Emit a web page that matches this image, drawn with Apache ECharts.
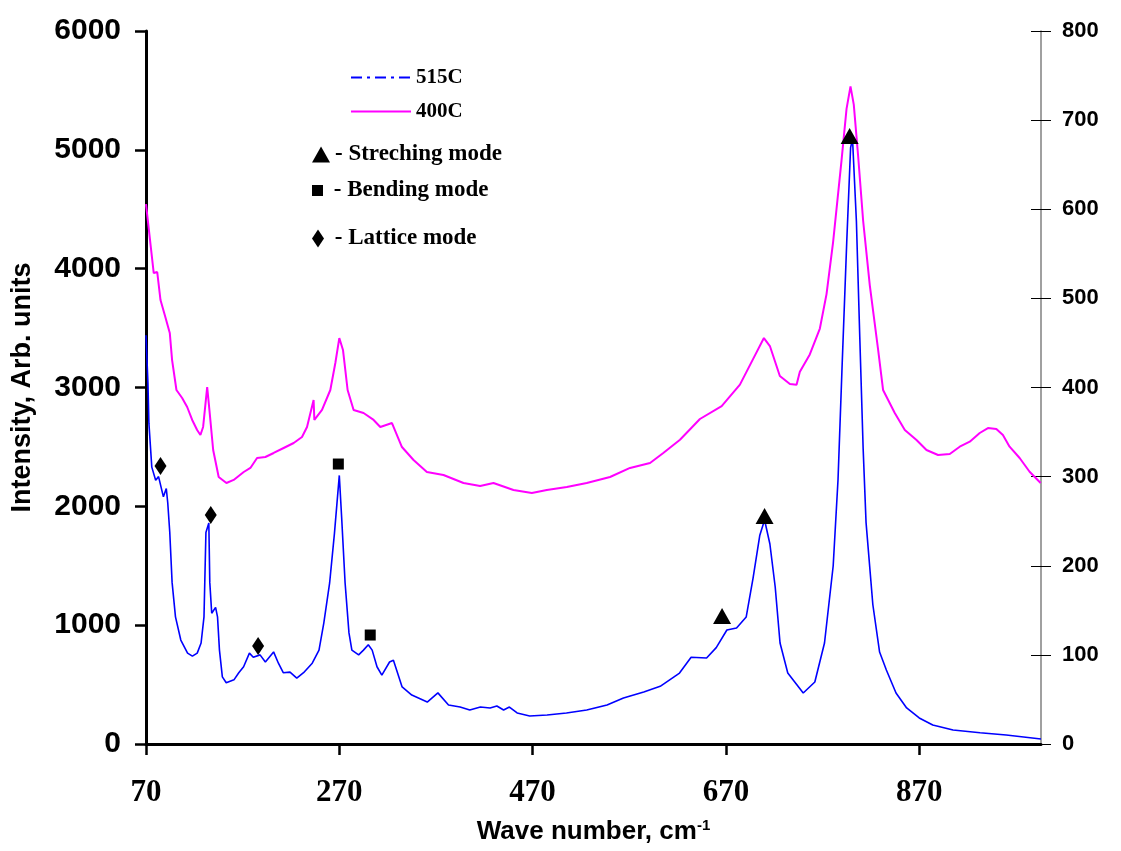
<!DOCTYPE html>
<html>
<head>
<meta charset="utf-8">
<script src="https://cdn.jsdelivr.net/npm/echarts@6/dist/echarts.min.js"></script>
<style>html,body{margin:0;padding:0;background:#fff}#c{width:1121px;height:851px}</style>
</head>
<body>
<div id="c"></div>
<script>
// ---- data ----
const xTicks = [70, 270, 470, 670, 870];

const wn515 = [70,72,73,76,80,83,88,91,92.5,94.6,97,100.5,106,113,118,123,127,130,132,135,136,138,142,144,146,149,153,161,166,171,177,181,188,193.5,202,207,212,219,226,233,242,249,254,260,265,270,272.4,276,280,283,290,295,300,304,309,314,322,326,335,345,361,372,383,395,405,416,426,433,440,446,454,467,485,505,526,547,564,585,602,622,634,650,660,671,681,691,698,705,710,715.5,721,726,734,750,762,772,781,786,790,795,799,801,805,808.5,812,815,822,829,836,846,857,870,884,905,933,960,996];
const int515 = [3440,3040,2700,2330,2220,2250,2080,2150,2030,1780,1360,1070,875,765,740,765,850,1070,1780,1860,1360,1100,1150,1070,790,565,515,540,600,650,765,730,750,690,775,680,600,605,555,600,680,790,1020,1355,1775,2260,1910,1355,935,790,750,790,835,790,650,580,690,705,480,412,353,430,328,311,286,311,303,320,286,311,261,236,244,261,286,328,387,438,485,597,730,724,811,959,976,1069,1392,1754,1885,1683,1321,850,597,429,522,850,1500,2226,3132,4221,5018,5091,4401,3425,2482,1863,1174,774,623,429,303,219,160,118,95,76,42];

const wn400 = [70,78,81.6,85,90,94.6,97,101.5,107.4,112.6,117.8,122.9,126.3,129.1,133.3,135.6,139.5,145.2,153.2,160.7,171.1,178,184.9,193.5,202.1,212.4,222.8,231.4,236.6,243.4,244.2,252.1,260.7,265.9,270,273.8,278.6,284.8,295.1,305.5,312.4,324.5,334.8,346.8,360.6,377.8,398.5,415.7,429.5,450.2,469.2,484.7,505.4,526,550.1,570.8,591.5,605.2,622.5,643.1,665.6,684.5,698.2,709.3,715.5,725.8,736.2,743.1,746.5,756.8,767.2,774.1,780.9,789.6,794.8,798.9,802.3,806.8,812,818.9,827.5,832.6,844.7,855.1,867.2,877.5,889.5,901.6,911.9,922.3,932.6,941.1,949.8,956.6,963.5,973.9,984.2,995.6];
const int400 = [4544,3963,3972,3736,3593,3459,3231,2979,2912,2836,2727,2642,2600,2668,3004,2811,2474,2247,2196,2222,2289,2323,2407,2415,2449,2491,2533,2583,2668,2895,2727,2811,2979,3206,3416,3316,2979,2811,2785,2727,2668,2701,2499,2390,2289,2264,2196,2171,2196,2137,2112,2137,2163,2196,2247,2323,2365,2449,2560,2735,2844,3024,3241,3416,3349,3097,3029,3024,3132,3278,3496,3786,4224,4910,5345,5534,5381,4948,4401,3858,3316,2979,2785,2642,2558,2474,2432,2440,2502,2544,2617,2659,2651,2600,2502,2407,2291,2196];

const stretchX = [666, 710, 798];
const stretchY = [1077, 1919, 5116];
const bendX = [269, 302];
const bendY = [2356, 917];
const latticeX = [85, 137, 186];
const latticeY = [2339, 1927, 825];

const zip = (a, b) => a.map((v, i) => [v, b[i]]);

const serifBold = {fontFamily: 'Liberation Serif', fontWeight: 'bold', fontSize: 21, color: '#000'};
const modeText = {fontFamily: 'Liberation Serif', fontWeight: 'bold', fontSize: 23, color: '#000'};
const modeLegend = (name, icon, top, w, h, fmt) => ({
  data: [name], left: 312, top: top, padding: 0, icon: icon, itemWidth: w, itemHeight: h,
  itemStyle: {color: '#000', opacity: 1}, formatter: fmt, textStyle: modeText, selectedMode: false
});

const chart = echarts.init(document.getElementById('c'), null, {renderer: 'canvas'});
chart.setOption({
  animation: false,
  backgroundColor: '#fff',
  grid: {left: 146, right: 80, top: 31, bottom: 107},
  legend: [
    {
      data: [
        {name: '515C', lineStyle: {type: [11, 5, 3, 5], width: 2}, itemStyle: {opacity: 0}},
        {name: '400C', lineStyle: {width: 2}, itemStyle: {opacity: 0}}
      ],
      orient: 'vertical', left: 350, top: 67, padding: 0, itemWidth: 60, itemHeight: 22, itemGap: 13,
      textStyle: serifBold, selectedMode: false
    },
    modeLegend('Streching mode', 'triangle', 143, 18, 16, '- {name}'),
    modeLegend('Bending mode', 'rect', 179, 11, 11, ' - {name}'),
    modeLegend('Lattice mode', 'diamond', 227, 12, 18, ' - {name}')
  ],
  xAxis: {
    type: 'value', min: 70, max: 996,
    name: 'Wave number, cm{sup|-1}', nameLocation: 'middle', nameGap: 74,
    nameTextStyle: {
      fontFamily: 'Liberation Sans', fontWeight: 'bold', fontSize: 26, color: '#000',
      rich: {sup: {fontFamily: 'Liberation Sans', fontWeight: 'bold', fontSize: 15, verticalAlign: 'top', padding: [0, 0, 12, 0]}}
    },
    axisLine: {show: true, lineStyle: {color: '#000', width: 3}},
    axisTick: {show: true, length: 11, lineStyle: {color: '#000', width: 2.5}, customValues: xTicks},
    axisLabel: {customValues: xTicks, margin: 33, fontFamily: 'Liberation Serif', fontWeight: 'bold', fontSize: 31, color: '#000'},
    splitLine: {show: false}
  },
  yAxis: [
    {
      type: 'value', min: 0, max: 6000, interval: 1000, position: 'left',
      name: 'Intensity, Arb. units', nameLocation: 'middle', nameGap: 110,
      nameTextStyle: {fontFamily: 'Liberation Sans', fontWeight: 'bold', fontSize: 27, color: '#000'},
      axisLine: {show: true, lineStyle: {color: '#000', width: 3}},
      axisTick: {show: true, length: 11, lineStyle: {color: '#000', width: 2.5}},
      axisLabel: {margin: 25, formatter: v => String(v), fontFamily: 'Liberation Sans', fontWeight: 'bold', fontSize: 30, color: '#000'},
      splitLine: {show: false}
    },
    {
      type: 'value', min: 0, max: 800, interval: 100, position: 'right',
      axisLine: {show: true, lineStyle: {color: '#808080', width: 1.5}},
      axisTick: {show: true, length: 10, lineStyle: {color: '#000', width: 1}},
      axisLabel: {margin: 21, formatter: v => String(v), fontFamily: 'Liberation Sans', fontWeight: 'bold', fontSize: 22, color: '#000'},
      splitLine: {show: false}
    },
    {
      type: 'value', min: 0, max: 800, interval: 100, position: 'right',
      axisLine: {show: false},
      axisTick: {show: true, inside: true, length: 10, lineStyle: {color: '#000', width: 1}},
      axisLabel: {show: false},
      splitLine: {show: false}
    }
  ],
  series: [
    {
      name: '515C', type: 'line', yAxisIndex: 0, showSymbol: false, symbol: 'none',
      data: zip(wn515, int515), lineStyle: {color: '#0000FF', width: 1.6}, itemStyle: {color: '#0000FF'}, z: 3
    },
    {
      name: '400C', type: 'line', yAxisIndex: 0, showSymbol: false, symbol: 'none',
      data: zip(wn400, int400), lineStyle: {color: '#FF00FF', width: 2}, itemStyle: {color: '#FF00FF'}, z: 2
    },
    {
      name: 'Streching mode', type: 'scatter', symbol: 'triangle', symbolSize: [18, 16],
      data: zip(stretchX, stretchY), itemStyle: {color: '#000', opacity: 1}, z: 5
    },
    {
      name: 'Bending mode', type: 'scatter', symbol: 'rect', symbolSize: [11, 11],
      data: zip(bendX, bendY), itemStyle: {color: '#000', opacity: 1}, z: 5
    },
    {
      name: 'Lattice mode', type: 'scatter', symbol: 'diamond', symbolSize: [12, 18],
      data: zip(latticeX, latticeY), itemStyle: {color: '#000', opacity: 1}, z: 5
    }
  ]
});
</script>
</body>
</html>
